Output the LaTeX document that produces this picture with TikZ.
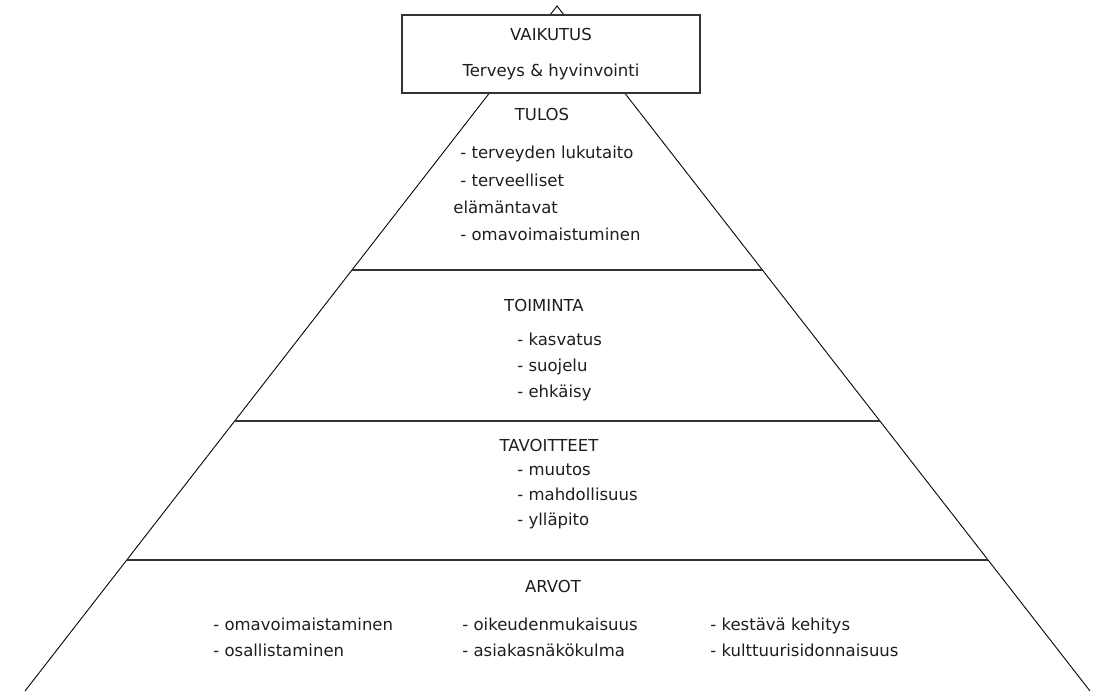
\documentclass[tikz,border=0pt]{standalone}
\usepackage{fontspec}
\setmainfont{DejaVu Sans}
\usepackage{tikz}
\usetikzlibrary{calc}
\definecolor{txtgray}{HTML}{1E1E1E}
\definecolor{divgray}{HTML}{333333}
\tikzset{
  % --- Pyramidi ----------------------------------------------
  side/.style={draw=black, line width=0.5pt},
  divline/.style={draw=divgray, line width=1.2pt},
  topbox/.style={draw=divgray, line width=1.2pt, fill=white,
    minimum width=5.96cm, minimum height=1.56cm, align=center,
    text=txtgray, font=\fontsize{9.4}{20.5}\selectfont},
  head/.style={text=txtgray, font=\fontsize{9.4}{11}\selectfont, inner sep=0pt,
    text height=1.6ex, text depth=0.4ex},
  item/.style={anchor=west, text=txtgray, font=\fontsize{9.4}{11}\selectfont,
    inner sep=0pt, text height=1.6ex, text depth=0.4ex}
}
\begin{document}
\begin{tikzpicture}[x=0.02cm, y=-0.02cm]
  \useasboundingbox (0,0) rectangle (1101,691);

  % --- Kolmio ---------------------------------------------------
  \coordinate (apex) at (557,6);
  \coordinate (bl) at (25,691);
  \coordinate (br) at (1090,691);
  \draw[side] (bl) -- (apex) -- (br);

  % --- Vaakaviivat ----------------------------------------------
  \draw[divline] ($(apex)!0.3854!(bl)$) -- ($(apex)!0.3854!(br)$);
  \draw[divline] ($(apex)!0.6058!(bl)$) -- ($(apex)!0.6058!(br)$);
  \draw[divline] ($(apex)!0.8088!(bl)$) -- ($(apex)!0.8088!(br)$);

  % --- Vaikutus ---------------------------------------------------
  \node[topbox] (VK) at (551,54) {VAIKUTUS\\Terveys \& hyvinvointi};

  % --- Tulos ------------------------------------------------------
  \node[head] (TL) at (542,115) {TULOS};
  \node[item] (TL1) at (460,153) {- terveyden lukutaito};
  \node[item] (TL2) at (460,181) {- terveelliset};
  \node[item] (TL3) at (453,208) {elämäntavat};
  \node[item] (TL4) at (460,235) {- omavoimaistuminen};

  % --- Toiminta ---------------------------------------------------
  \node[head] (TM) at (544,306) {TOIMINTA};
  \node[item] (TM1) at (517,340) {- kasvatus};
  \node[item] (TM2) at (517,366) {- suojelu};
  \node[item] (TM3) at (517,392) {- ehkäisy};

  % --- Tavoitteet -------------------------------------------------
  \node[head] (TV) at (549,446) {TAVOITTEET};
  \node[item] (TV1) at (517,470) {- muutos};
  \node[item] (TV2) at (517,495) {- mahdollisuus};
  \node[item] (TV3) at (517,520) {- ylläpito};

  % --- Arvot ------------------------------------------------------
  \node[head] (AR) at (553,587) {ARVOT};
  \node[item] (AR1) at (213,625) {- omavoimaistaminen};
  \node[item] (AR2) at (213,651) {- osallistaminen};
  \node[item] (AR3) at (462,625) {- oikeudenmukaisuus};
  \node[item] (AR4) at (462,651) {- asiakasnäkökulma};
  \node[item] (AR5) at (710,625) {- kestävä kehitys};
  \node[item] (AR6) at (710,651) {- kulttuurisidonnaisuus};

\end{tikzpicture}
\end{document}
